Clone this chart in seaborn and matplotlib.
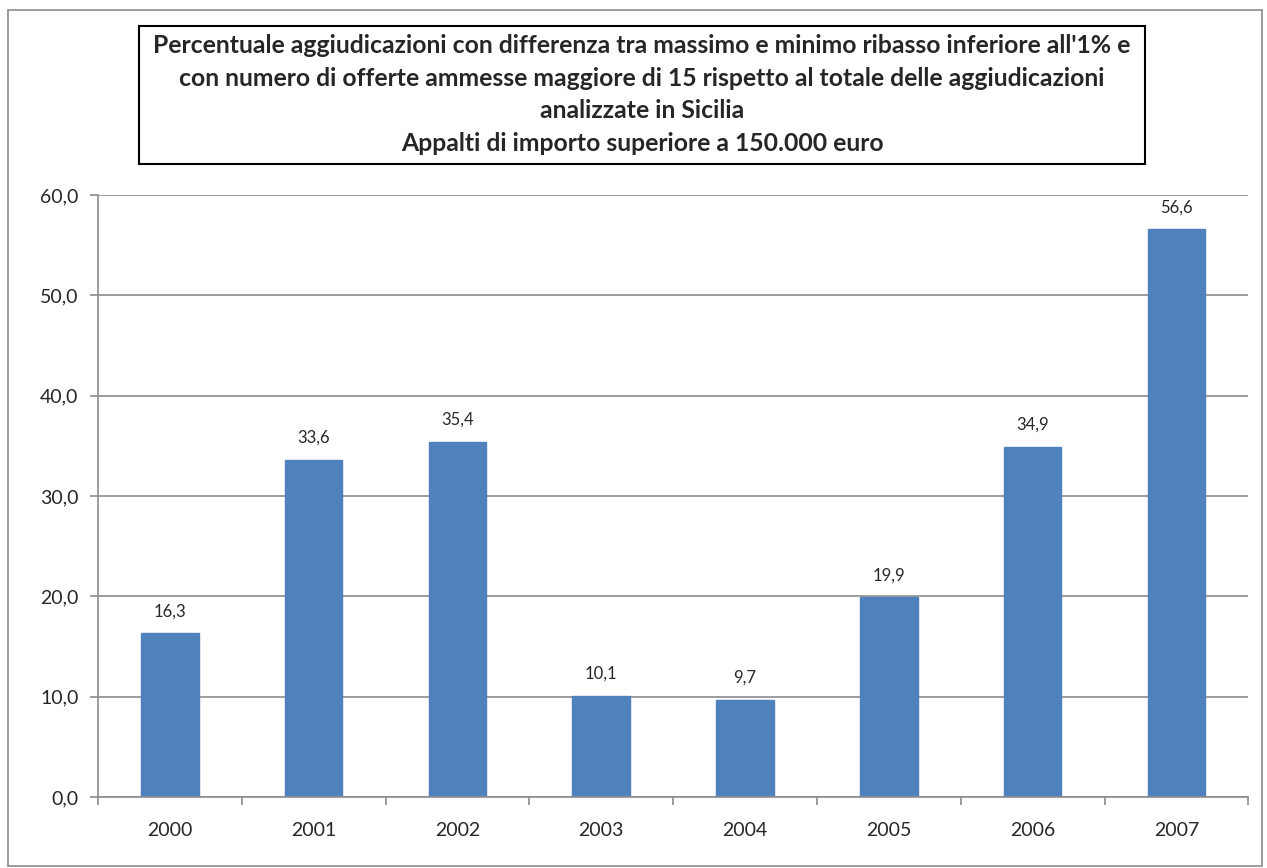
import matplotlib
matplotlib.use("Agg")
import matplotlib.pyplot as plt
import seaborn as sns
import pandas as pd
from matplotlib.patches import Rectangle
from matplotlib.ticker import FuncFormatter, FixedLocator

# data
anni = ['2000', '2001', '2002', '2003', '2004', '2005', '2006', '2007']
percentuali = [16.3, 33.6, 35.4, 10.1, 9.7, 19.9, 34.9, 56.6]

righe_titolo = ["Percentuale aggiudicazioni con differenza tra massimo e minimo ribasso inferiore all'1% e",
                "con numero di offerte ammesse maggiore di 15 rispetto al totale delle aggiudicazioni",
                "analizzate in Sicilia",
                "Appalti di importo superiore a 150.000 euro"]

df = pd.DataFrame({'Anno': anni, 'Percentuale': percentuali})

sns.set_style('white')
plt.rcParams['font.family'] = ['Lato', 'DejaVu Sans']

fig = plt.figure(figsize=(12.67, 8.68), dpi=100)
ax = fig.add_axes([0.0773, 0.0818, 0.908, 0.6935])

sns.barplot(data=df, x='Anno', y='Percentuale', color='#4F81BD', width=0.4,
            saturation=1, ax=ax, edgecolor='#4F81BD')

ax.set_ylim(0, 60)
ax.set_xlim(-0.5, len(anni) - 0.5)
ax.set_yticks(range(0, 61, 10))
ax.yaxis.set_major_formatter(FuncFormatter(lambda v, p: f'{v:.1f}'.replace('.', ',')))
ax.grid(axis='y', color='#8C8C8C', linewidth=1.2)
ax.set_axisbelow(True)
ax.set_xlabel('')
ax.set_ylabel('')

for s in ['top', 'right']:
    ax.spines[s].set_visible(False)
for s in ['left', 'bottom']:
    ax.spines[s].set_color('#8C8C8C')
    ax.spines[s].set_linewidth(1.2)

ax.tick_params(axis='y', length=6, color='#8C8C8C', width=1.2, labelsize=14, pad=8, left=True)
ax.tick_params(axis='x', which='major', length=0, labelsize=14, pad=18)
ax.xaxis.set_minor_locator(FixedLocator([i - 0.5 for i in range(len(anni) + 1)]))
ax.tick_params(axis='x', which='minor', length=6, color='#8C8C8C', width=1.2, bottom=True)

for i, v in enumerate(percentuali):
    ax.annotate(f'{v:.1f}'.replace('.', ','), (i, v), xytext=(0, 10), textcoords='offset points',
                ha='center', va='bottom', fontsize=12)

# title box
fig.patches.append(Rectangle((139 / 1267, 1 - 164 / 868), (1145 - 139) / 1267, (164 - 26) / 868,
                             transform=fig.transFigure, fill=False, edgecolor='black', linewidth=1.5))
for k, riga in enumerate(righe_titolo):
    fig.text(642 / 1267, 1 - (53 + 32.7 * k) / 868, riga, ha='center', va='baseline',
             fontsize=17.8, fontweight='bold')

# outer border
fig.patches.append(Rectangle((8 / 1267, 1 - 866 / 868), (1262 - 8) / 1267, (866 - 10) / 868,
                             transform=fig.transFigure, fill=False, edgecolor='#8C8C8C', linewidth=1.2))

fig.savefig('out.png', dpi=100)
